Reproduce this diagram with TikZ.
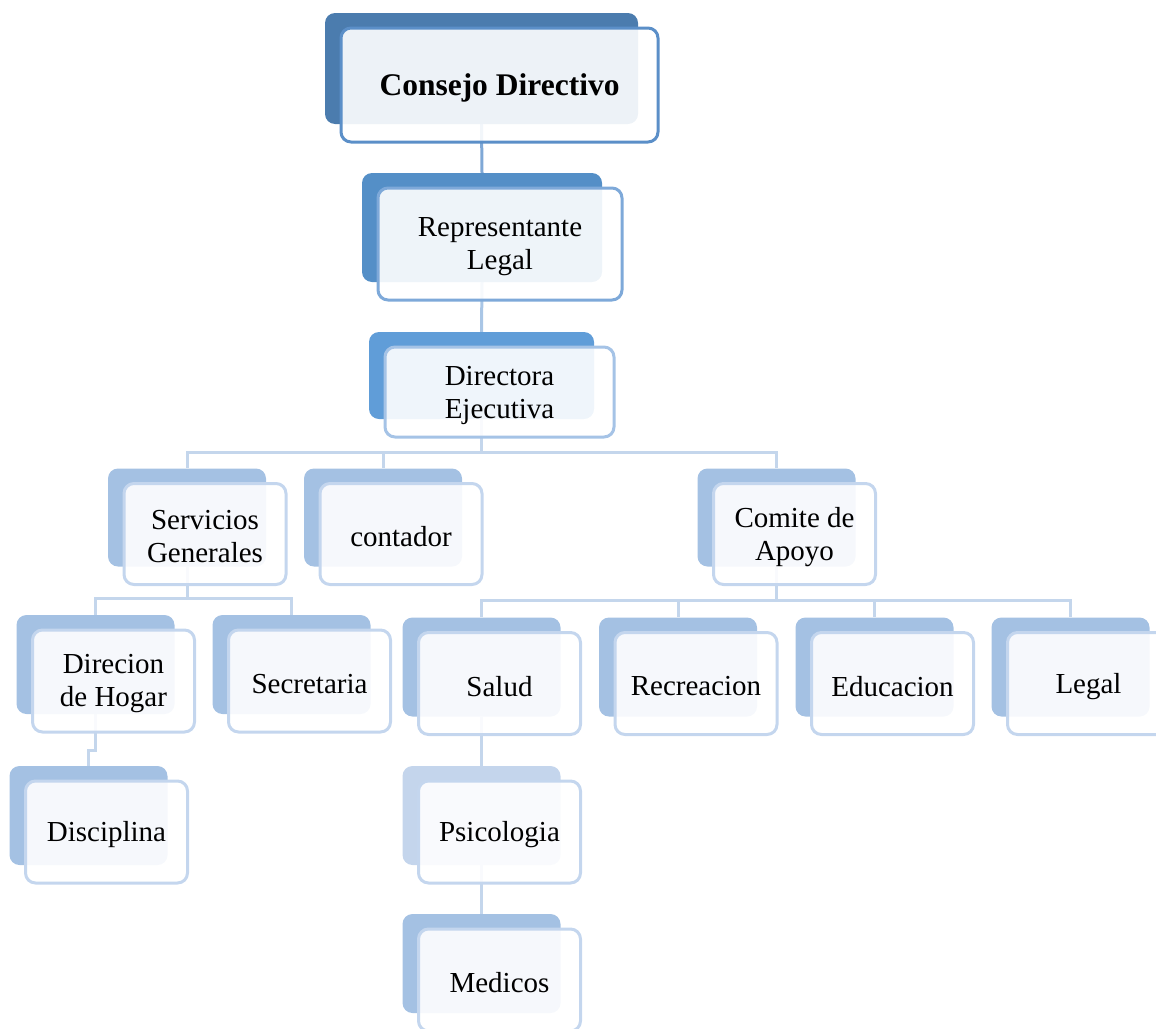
\documentclass[tikz,border=0pt]{standalone}
\usepackage{fontspec}
\setmainfont{Liberation Serif}
\usetikzlibrary{backgrounds}
\definecolor{bkA}{HTML}{4B7CAE}
\definecolor{bkB}{HTML}{548FC7}
\definecolor{bkC}{HTML}{609DD8}
\definecolor{bkD}{HTML}{A4C1E3}
\definecolor{bkE}{HTML}{C4D5EC}
\definecolor{frA}{HTML}{5B8FC8}
\definecolor{frB}{HTML}{7EA9D9}
\definecolor{frC}{HTML}{A5C3E6}
\definecolor{frD}{HTML}{C4D6EE}
\definecolor{lnA}{HTML}{7FA8D6}
\definecolor{lnB}{HTML}{A9C6E6}
\definecolor{lnC}{HTML}{C4D6EC}
\tikzset{
  backbox/.style={rectangle, rounded corners=10pt, draw=none, inner sep=0pt},
  frontbox/.style={rectangle, rounded corners=10pt, line width=3pt, fill=white, fill opacity=0.9, inner sep=0pt},
  boxtext/.style={inner sep=0pt, align=center, font=\fontsize{29}{33}\selectfont},
  conn/.style={line width=3pt},
}
% name, cx, cy, w, h, back colour, border colour, text
\newcommand\orgbox[8]{%
  \node[backbox, fill=#6, minimum width={(#4-4)*1pt}, minimum height={(#5-3)*1pt}] (#1b) at ({#2-18},{#3-16.5}) {};
  \node[frontbox, draw=#7, minimum width={#4*1pt}, minimum height={#5*1pt}] (#1) at (#2,#3) {};
  \node[boxtext] (#1t) at (#2,{#3+3}) {#8};
}
\begin{document}
\begin{tikzpicture}[x=1pt,y=-1pt]
\useasboundingbox (0,0) rectangle (1156,1028);
\orgbox{consejo}{499.5}{85}{317}{114}{bkA}{frA}{\fontsize{31.5}{34}\selectfont\bfseries Consejo Directivo}
\orgbox{rep}{500}{244}{244}{112}{bkB}{frB}{Representante\\Legal}
\orgbox{dir}{499.5}{392}{229}{90}{bkC}{frC}{Directora\\Ejecutiva}
\orgbox{serv}{205}{534}{162}{101}{bkD}{frD}{Servicios\\Generales}
\orgbox{cont}{401}{534}{162}{101}{bkD}{frD}{contador}
\orgbox{comite}{794.5}{534}{162}{101}{bkD}{frD}{Comite de\\Apoyo}
\orgbox{direc}{113.5}{681}{162}{102}{bkD}{frD}{Direcion\\de Hogar}
\orgbox{secre}{309.5}{681}{162}{102}{bkD}{frD}{Secretaria}
\orgbox{disc}{106.5}{832}{162}{102}{bkD}{frD}{Disciplina}
\orgbox{salud}{499.5}{683.5}{162}{102}{bkD}{frD}{Salud}
\orgbox{recre}{696}{683.5}{162}{102}{bkD}{frD}{Recreacion}
\orgbox{educ}{892.5}{683.5}{162}{102}{bkD}{frD}{Educacion}
\orgbox{legal}{1088.5}{683.5}{162}{102}{bkD}{frD}{Legal}
\orgbox{psico}{499.5}{832}{162}{102}{bkE}{frD}{Psicologia}
\orgbox{medicos}{499.5}{980}{162}{102}{bkD}{frD}{Medicos}
\coordinate (ya) at (0,452);
\coordinate (yb) at (0,598);
\coordinate (yc) at (0,600);
\coordinate (yd) at (0,750);
\begin{pgfonlayer}{background}
\draw[conn, lnA] (consejob.south) -- (repb.north);
\draw[conn, lnB] (repb.south) -- (dirb.north);
\draw[conn, lnC] (dirb.south) -- (dirb.south |- ya) -| (servb.north);
\draw[conn, lnC] (dirb.south |- ya) -| (contb.north);
\draw[conn, lnC] (dirb.south |- ya) -| (comiteb.north);
\draw[conn, lnC] (servb.south) -- (servb.south |- yb) -| (direcb.north);
\draw[conn, lnC] (servb.south |- yb) -| (secreb.north);
\draw[conn, lnC] (direcb.south) -- (direcb.south |- yd) -| (discb.north);
\draw[conn, lnC] (comiteb.south) -- (comiteb.south |- yc) -| (saludb.north);
\draw[conn, lnC] (comiteb.south |- yc) -| (recreb.north);
\draw[conn, lnC] (comiteb.south |- yc) -| (educb.north);
\draw[conn, lnC] (comiteb.south |- yc) -| (legalb.north);
\draw[conn, lnC] (saludb.south) -- (psicob.north);
\draw[conn, lnC] (psicob.south) -- (medicosb.north);
\end{pgfonlayer}
\end{tikzpicture}
\end{document}
